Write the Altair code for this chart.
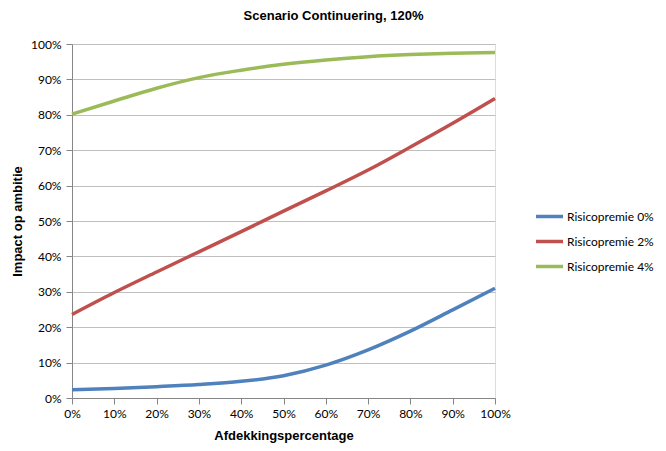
import altair as alt
import pandas as pd

x_pct = [0, 10, 20, 30, 40, 50, 60, 70, 80, 90, 100]
series_names = ["Risicopremie 0%", "Risicopremie 2%", "Risicopremie 4%"]
rp0 = [2.3, 2.7, 3.2, 3.8, 4.7, 6.3, 9.3, 13.6, 18.9, 24.9, 31.0]
rp2 = [23.6, 29.8, 35.6, 41.3, 47.0, 52.8, 58.5, 64.4, 70.9, 77.6, 84.6]
rp4 = [80.2, 83.9, 87.5, 90.5, 92.6, 94.3, 95.5, 96.4, 97.0, 97.4, 97.6]
colors = ["#4F81BD", "#C0504D", "#9BBB59"]

rows = []
for name, vals in zip(series_names, [rp0, rp2, rp4]):
    for x, v in zip(x_pct, vals):
        rows.append({"x": x / 100, "y": v / 100, "serie": name})
df = pd.DataFrame(rows)

chart = alt.Chart(df).mark_line(strokeWidth=3.5, interpolate="monotone").encode(
    x=alt.X("x:Q", scale=alt.Scale(domain=[0, 1], nice=False),
            axis=alt.Axis(title="Afdekkingspercentage", format=".0%", values=[i / 10 for i in range(11)],
                          grid=False, domainColor="#868686", tickColor="#868686", tickSize=6,
                          labelFont="Lato", labelFontSize=12, labelColor="#000000", labelPadding=4,
                          titleFont="Liberation Sans", titleFontSize=13, titleFontWeight="bold",
                          titleColor="#000000", titlePadding=10, labelFlush=False)),
    y=alt.Y("y:Q", scale=alt.Scale(domain=[0, 1], nice=False),
            axis=alt.Axis(title="Impact op ambitie", format=".0%", values=[i / 10 for i in range(11)],
                          grid=True, gridColor="#BFBFBF", gridWidth=1.2,
                          domainColor="#868686", tickColor="#868686", tickSize=6,
                          labelFont="Lato", labelFontSize=12, labelColor="#000000", labelPadding=5,
                          titleFont="Liberation Sans", titleFontSize=13, titleFontWeight="bold",
                          titleColor="#000000", titlePadding=6)),
    color=alt.Color("serie:N", scale=alt.Scale(domain=series_names, range=colors),
                    legend=alt.Legend(title=None, orient="none", legendX=462, legendY=157,
                                      symbolType="stroke", symbolSize=729, symbolStrokeWidth=3.5,
                                      labelFont="Lato", labelFontSize=12, labelColor="#000000",
                                      labelOffset=2, rowPadding=2)),
).properties(
    width=423, height=354,
    title=alt.TitleParams("Scenario Continuering, 120%", font="Liberation Sans", fontSize=13,
                          fontWeight="bold", color="#000000", anchor="middle", dx=50, offset=15),
    autosize=alt.AutoSizeParams(type="none"),
    padding={"left": 64, "top": 36, "right": 163, "bottom": 45},
).configure_view(stroke=None).configure(background="white")

chart.save("out.html", embed_options={"renderer": "svg", "actions": False})
